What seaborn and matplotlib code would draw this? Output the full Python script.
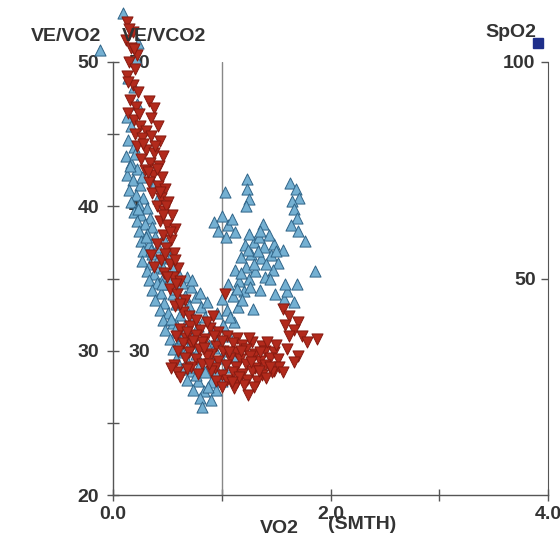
import pandas as pd
import seaborn as sns
import matplotlib.pyplot as plt
from matplotlib.lines import Line2D

# (VO2 smoothed, ratio) pairs
ve_vo2_points = [
    (-0.12, 50.8), (0.09, 53.4), (0.23, 51.3), (0.21, 50.2), (0.14, 48.9), (0.19, 48.3), (0.13, 46.2),
    (0.17, 45.6), (0.22, 47.1), (0.14, 44.6), (0.19, 44.1), (0.12, 43.5), (0.17, 43.0), (0.22, 42.6),
    (0.13, 42.2), (0.18, 41.8), (0.25, 41.5), (0.15, 41.1), (0.21, 40.8), (0.28, 40.6), (0.17, 40.3),
    (0.24, 40.1), (0.31, 39.9), (0.19, 39.6), (0.26, 39.4), (0.34, 39.2), (0.41, 40.6), (0.38, 41.5),
    (0.22, 39.0), (0.29, 38.8), (0.36, 38.6), (0.24, 38.3), (0.31, 38.1), (0.39, 37.9), (0.46, 37.8),
    (0.26, 37.6), (0.33, 37.4), (0.41, 37.2), (0.49, 37.0), (0.28, 36.9), (0.36, 36.7), (0.44, 36.5),
    (0.52, 36.4), (0.27, 36.2), (0.34, 36.0), (0.42, 35.8), (0.55, 35.9), (0.31, 35.5), (0.38, 35.3),
    (0.47, 35.2), (0.60, 35.4), (0.68, 35.1), (0.33, 34.9), (0.40, 34.7), (0.50, 34.6), (0.63, 34.7),
    (0.72, 34.4), (0.36, 34.2), (0.44, 34.0), (0.55, 33.9), (0.66, 33.8), (0.76, 33.7), (0.39, 33.5),
    (0.47, 33.3), (0.58, 33.2), (0.70, 33.1), (0.81, 33.0), (0.43, 32.8), (0.51, 32.6), (0.62, 32.5),
    (0.74, 32.4), (0.85, 32.3), (0.46, 32.1), (0.55, 31.9), (0.66, 31.8), (0.78, 31.7), (0.48, 31.4),
    (0.58, 31.3), (0.70, 31.2), (0.52, 30.8), (0.61, 30.6), (0.73, 30.5), (0.55, 30.1), (0.65, 29.9),
    (0.76, 29.8), (0.58, 29.4), (0.68, 29.3), (0.80, 29.1), (0.92, 29.2), (0.63, 28.7), (0.73, 28.6),
    (0.85, 28.5), (0.96, 28.6), (0.68, 28.0), (0.78, 27.9), (0.90, 27.8), (1.00, 27.9), (0.74, 27.3),
    (0.84, 27.2), (0.95, 27.3), (0.80, 26.7), (0.90, 26.6), (0.82, 26.1), (0.88, 30.4), (0.99, 29.5),
    (1.05, 28.9), (0.93, 30.2), (1.03, 30.0), (1.12, 29.6), (0.97, 30.9), (1.07, 31.0), (0.92, 31.6),
    (1.01, 31.8), (1.11, 32.0), (0.96, 32.6), (1.05, 32.8), (1.15, 33.0), (1.00, 33.6), (1.10, 33.8),
    (1.20, 34.1), (1.06, 34.6), (1.16, 34.8), (1.25, 35.0), (1.12, 35.6), (1.22, 35.8), (1.31, 35.5),
    (1.35, 34.2), (1.40, 35.1), (1.29, 32.9), (1.18, 36.5), (1.27, 36.7), (1.36, 36.4), (1.45, 36.6),
    (1.52, 36.1), (1.21, 37.3), (1.30, 37.5), (1.39, 37.2), (1.48, 37.4), (1.56, 37.0), (1.25, 38.1),
    (1.34, 37.9), (1.43, 38.0), (1.38, 38.8), (1.47, 35.6), (1.30, 36.0), (1.44, 35.0), (0.93, 38.9),
    (1.00, 39.3), (1.06, 38.7), (1.12, 38.2), (0.97, 38.3), (1.04, 37.9), (1.09, 39.1), (1.03, 41.0),
    (1.23, 41.9), (1.23, 41.2), (1.25, 40.5), (1.22, 40.0), (1.63, 41.6), (1.68, 41.2), (1.71, 40.6),
    (1.65, 40.4), (1.66, 39.8), (1.69, 39.2), (1.64, 38.7), (1.70, 38.3), (1.77, 37.6), (1.86, 35.5),
    (1.69, 34.6), (1.49, 33.9), (1.57, 33.6), (1.66, 33.4), (1.60, 34.1),
    (0.16, 42.8), (0.20, 43.6), (0.27, 42.0), (0.23, 39.8), (0.30, 37.9), (0.35, 37.0), (0.40, 36.2),
    (0.46, 35.7), (0.52, 35.0), (0.57, 34.3), (0.45, 34.6), (0.61, 33.6), (0.67, 32.9), (0.53, 32.2),
    (0.59, 31.7), (0.63, 30.9), (0.69, 30.2), (0.71, 28.9), (0.87, 27.5), (0.76, 28.3), (0.94, 30.7),
    (1.08, 32.3), (1.14, 34.3), (1.18, 35.4), (1.26, 34.4), (1.33, 36.9), (1.41, 36.0), (1.24, 37.0),
    (1.50, 36.9), (1.35, 38.3), (1.19, 33.5), (1.58, 34.6), (0.86, 33.4), (0.80, 34.0), (0.73, 34.9),
]

ve_vco2_points = [
    (0.13, 52.8), (0.18, 52.1), (0.12, 51.5), (0.17, 51.0), (0.22, 50.5), (0.15, 50.0), (0.20, 49.5),
    (0.13, 49.0), (0.18, 48.4), (0.23, 47.9), (0.16, 47.4), (0.21, 46.9), (0.14, 46.5), (0.19, 46.0),
    (0.25, 45.6), (0.33, 47.3), (0.38, 46.8), (0.35, 46.1), (0.41, 45.6), (0.30, 45.2), (0.20, 45.0),
    (0.27, 44.7), (0.35, 44.9), (0.43, 44.5), (0.22, 44.2), (0.30, 43.9), (0.38, 43.7), (0.46, 43.5),
    (0.26, 43.3), (0.34, 43.0), (0.42, 42.8), (0.29, 42.5), (0.37, 42.2), (0.45, 42.0), (0.33, 41.7),
    (0.41, 41.4), (0.48, 41.2), (0.36, 40.9), (0.44, 40.6), (0.51, 40.3), (0.40, 40.0), (0.47, 39.7),
    (0.54, 39.4), (0.43, 39.0), (0.50, 38.7), (0.57, 38.4), (0.46, 38.0), (0.53, 37.7), (0.40, 37.4),
    (0.49, 37.1), (0.56, 36.8), (0.35, 36.6), (0.44, 36.3), (0.52, 36.0), (0.60, 35.7), (0.38, 35.8),
    (0.47, 35.4), (0.55, 35.1), (0.62, 34.8), (0.52, 34.3), (0.59, 33.9), (0.66, 33.5), (0.57, 33.1),
    (0.64, 32.7), (0.70, 32.4), (0.62, 31.5), (0.71, 31.7), (0.80, 31.4), (0.89, 31.6), (0.97, 31.3),
    (0.76, 32.1), (0.86, 32.0), (0.58, 31.0), (0.67, 30.9), (0.76, 31.1), (0.85, 30.8), (1.05, 31.0),
    (1.14, 30.9), (0.64, 30.5), (0.73, 30.4), (0.82, 30.6), (0.95, 30.3), (1.10, 30.5), (1.19, 30.4),
    (1.28, 30.6), (1.37, 30.3), (0.60, 30.0), (0.70, 29.9), (0.79, 30.1), (0.90, 29.8), (1.01, 30.0),
    (1.13, 29.9), (1.22, 30.1), (1.31, 29.8), (1.40, 30.0), (1.48, 29.9), (0.66, 29.5), (0.76, 29.4),
    (0.86, 29.6), (0.97, 29.3), (1.08, 29.5), (1.17, 29.4), (1.26, 29.6), (1.35, 29.3), (1.44, 29.5),
    (1.52, 29.4), (0.56, 29.0), (0.72, 28.9), (0.82, 29.1), (0.94, 28.8), (1.04, 29.0), (1.13, 28.9),
    (1.22, 29.1), (1.31, 28.8), (1.40, 29.0), (1.48, 28.6), (0.59, 28.5), (0.78, 28.4), (0.90, 28.6),
    (1.00, 28.3), (1.10, 28.5), (1.19, 28.4), (1.28, 28.6), (1.37, 28.3), (1.46, 28.5), (0.95, 27.9),
    (1.05, 28.0), (1.14, 27.8), (1.23, 28.0), (1.32, 27.9), (1.41, 28.1), (1.00, 27.5), (1.11, 27.4),
    (1.20, 27.6), (1.30, 27.5), (1.24, 26.9), (0.53, 28.8), (0.62, 28.2), (1.03, 33.9), (0.92, 32.4),
    (1.56, 32.9), (1.62, 32.4), (1.70, 32.0), (1.58, 31.8), (1.66, 31.4), (1.74, 31.0), (1.62, 31.0),
    (1.78, 30.6), (1.88, 30.8), (1.60, 30.1), (1.70, 29.6), (1.66, 29.2), (1.53, 28.9), (1.56, 28.5),
    (0.15, 52.3), (0.19, 50.9), (0.14, 48.6), (0.24, 46.4), (0.28, 44.3), (0.39, 44.2), (0.32, 42.4),
    (0.40, 42.6), (0.43, 41.0), (0.49, 40.0), (0.46, 39.4), (0.52, 38.2), (0.48, 36.7), (0.57, 36.3),
    (0.50, 35.1), (0.58, 34.6), (0.62, 33.2), (0.68, 31.3), (0.74, 30.7), (0.84, 30.2), (0.93, 31.0),
    (1.00, 30.7), (1.18, 30.0), (1.27, 29.2), (1.35, 29.9), (1.44, 28.9), (1.07, 29.9), (0.88, 29.1),
    (0.68, 28.7), (1.16, 28.2), (1.34, 28.6), (1.50, 30.4), (1.42, 30.6), (1.25, 30.9), (1.09, 27.8),
]

ratio_ticks = [20, 30, 40, 50]
vco2_ticks = [30, 40, 50]
spo2_ticks = [50, 100]
vo2_ticks = [0, 1, 2, 3, 4]
vo2_labels = ["0.0", "", "2.0", "", "4.0"]

text_col = "#333333"
line_col = "#555555"


def main():
    sns.set_style("ticks")
    plt.rcParams["font.family"] = ["Liberation Sans", "DejaVu Sans"]
    plt.rcParams["font.weight"] = "bold"

    vo2 = pd.DataFrame(ve_vo2_points, columns=["vo2", "ratio"])
    vco2 = pd.DataFrame(ve_vco2_points, columns=["vo2", "ratio"])

    fig = plt.figure(figsize=(5.6, 5.4), dpi=100)
    ax = fig.add_axes([0.2018, 0.0833, 0.7768, 0.8019])
    ax.set_xlim(0, 4)
    ax.set_ylim(20, 50)

    # main left axis (VE/VO2) and x axis
    for s in ["top", "right"]:
        ax.spines[s].set_visible(False)
    for s in ["left", "bottom"]:
        ax.spines[s].set_color(line_col)
        ax.spines[s].set_linewidth(1)
    ax.set_xticks(vo2_ticks)
    ax.set_xticklabels(vo2_labels)
    ax.set_yticks(ratio_ticks)
    ax.set_yticks([25, 35, 45], minor=True)
    ax.tick_params(axis="both", which="both", direction="inout", length=8, width=1,
                   color=line_col, labelcolor=text_col, labelsize=14)
    ax.tick_params(axis="x", pad=4)
    ax.tick_params(axis="y", pad=6)
    ax.axvline(1, color="#888888", lw=1)

    # SpO2 axis on the right
    ax2 = ax.twinx()
    ax2.set_ylim(0, 100)
    for s in ["top", "left", "bottom"]:
        ax2.spines[s].set_visible(False)
    ax2.spines["right"].set_color(line_col)
    ax2.set_yticks(spo2_ticks)
    ax2.tick_params(axis="y", direction="in", length=5, width=1, color=line_col,
                    labelcolor=text_col, labelsize=14, pad=-9)
    for lbl in ax2.get_yticklabels():
        lbl.set_ha("right")

    # VE/VCO2 labels on the inner side of the left axis, points drawn on top
    ax3 = ax.twinx()
    ax3.set_ylim(20, 50)
    for s in ax3.spines.values():
        s.set_visible(False)
    ax3.spines["right"].set_position(("axes", 0))
    ax3.set_yticks(vco2_ticks)
    ax3.tick_params(axis="y", length=0, labelcolor=text_col, labelsize=14, pad=11)

    sns.scatterplot(data=vo2, x="vo2", y="ratio", marker="^", s=64, color="#74b0d2",
                    edgecolor="#2f6488", linewidth=0.7, ax=ax3, clip_on=False, zorder=3)
    sns.scatterplot(data=vco2, x="vo2", y="ratio", marker="v", s=64, color="#b22a1c",
                    edgecolor="#861a10", linewidth=0.7, ax=ax3, clip_on=False, zorder=3)
    ax3.set_xlabel("")
    ax3.set_ylabel("")
    ax3.set_xlim(0, 4)

    # axis titles
    fig.text(0.118, 0.932, "VE/VO2", ha="center", va="center", fontsize=14, color=text_col)
    fig.text(0.292, 0.932, "VE/VCO2", ha="center", va="center", fontsize=14, color=text_col)
    fig.text(0.912, 0.940, "SpO2", ha="center", va="center", fontsize=14, color=text_col)
    fig.add_artist(Line2D([0.961], [0.921], marker="s", markersize=7, color="#1f2f8a",
                          transform=fig.transFigure))
    fig.text(0.498, 0.022, "VO2", ha="center", va="center", fontsize=14, color=text_col)
    fig.text(0.586, 0.028, "(SMTH)", ha="left", va="center", fontsize=14, color=text_col)

    fig.savefig("out.png", dpi=100)


main()
